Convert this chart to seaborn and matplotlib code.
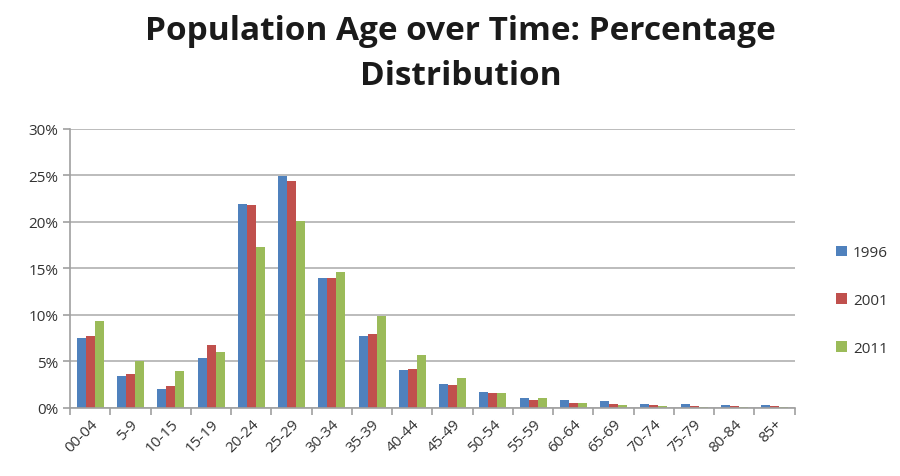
import matplotlib
matplotlib.use("Agg")
import matplotlib.pyplot as plt
import seaborn as sns
import pandas as pd
import numpy as np
from matplotlib.ticker import FuncFormatter, FixedLocator

categories = ["00-04", "5-9", "10-15", "15-19", "20-24", "25-29", "30-34", "35-39",
              "40-44", "45-49", "50-54", "55-59", "60-64", "65-69", "70-74", "75-79",
              "80-84", "85+"]
years = ["1996", "2001", "2011"]
v1996 = [7.5, 3.4, 2.05, 5.4, 21.9, 24.9, 14.0, 7.7, 4.1, 2.57, 1.68, 1.1, 0.86, 0.71, 0.39, 0.43, 0.29, 0.29]
v2001 = [7.7, 3.7, 2.4, 6.8, 21.8, 24.4, 14.0, 7.9, 4.2, 2.46, 1.57, 0.82, 0.54, 0.43, 0.32, 0.18, 0.18, 0.18]
v2011 = [9.4, 5.1, 3.96, 6.0, 17.3, 20.1, 14.6, 9.9, 5.7, 3.18, 1.64, 1.1, 0.54, 0.29, 0.18, 0.14, 0.14, 0.14]
colors = ["#4F81BD", "#C0504D", "#9BBB59"]

df = pd.DataFrame({
    "age": categories * 3,
    "year": [y for y in years for _ in categories],
    "pct": v1996 + v2001 + v2011,
})

sns.set_theme(style="white")
plt.rcParams["font.family"] = ["Open Sans", "DejaVu Sans"]

fig = plt.figure(figsize=(9, 4.77), dpi=100)
ax = fig.add_axes([0.078, 0.1426, 0.805, 0.585])

sns.barplot(data=df, x="age", y="pct", hue="year", palette=colors, width=0.67,
            gap=0, saturation=1, ax=ax, order=categories, hue_order=years,
            edgecolor="none", linewidth=0)

ax.set_ylim(0, 30)
ax.set_xlim(-0.5, len(categories) - 0.5)
ax.set_yticks([0, 5, 10, 15, 20, 25, 30])
ax.yaxis.set_major_formatter(FuncFormatter(lambda v, p: f"{int(v)}%"))
ax.yaxis.grid(True, color="#B0B0B0", linewidth=1.2)
ax.set_axisbelow(True)
ax.set_xlabel("")
ax.set_ylabel("")

for s in ["top", "right"]:
    ax.spines[s].set_visible(False)
for s in ["left", "bottom"]:
    ax.spines[s].set_color("#A0A0A0")
    ax.spines[s].set_linewidth(1.2)

# x ticks between categories (Excel style)
ax.xaxis.set_major_locator(FixedLocator(np.arange(len(categories))))
ax.set_xticks(np.arange(len(categories)))
ax.set_xticklabels(categories, rotation=45, ha="right", rotation_mode="anchor",
                   fontsize=11, color="#333333")
ax.tick_params(axis="x", length=0, pad=6)
ax.set_xticks(np.arange(-0.5, len(categories)), minor=True)
ax.tick_params(axis="x", which="minor", length=5, color="#A0A0A0", width=1.2, direction="out", bottom=True)
ax.tick_params(axis="y", length=5, color="#A0A0A0", width=1.2, direction="out",
               labelsize=11, labelcolor="#333333", left=True)

leg = ax.legend(loc="center left", bbox_to_anchor=(1.0, 0.385), frameon=False,
                fontsize=11, handlelength=0.7, handleheight=0.7, labelspacing=2.15,
                handletextpad=0.4, borderaxespad=2.3)
for t in leg.get_texts():
    t.set_color("#333333")

fig.text(0.512, 0.935, "Population Age over Time: Percentage", ha="center", va="center",
         fontsize=24, fontweight="bold", color="#1a1a1a")
fig.text(0.512, 0.84, "Distribution", ha="center", va="center",
         fontsize=24, fontweight="bold", color="#1a1a1a")

fig.savefig("out.png", dpi=100)
